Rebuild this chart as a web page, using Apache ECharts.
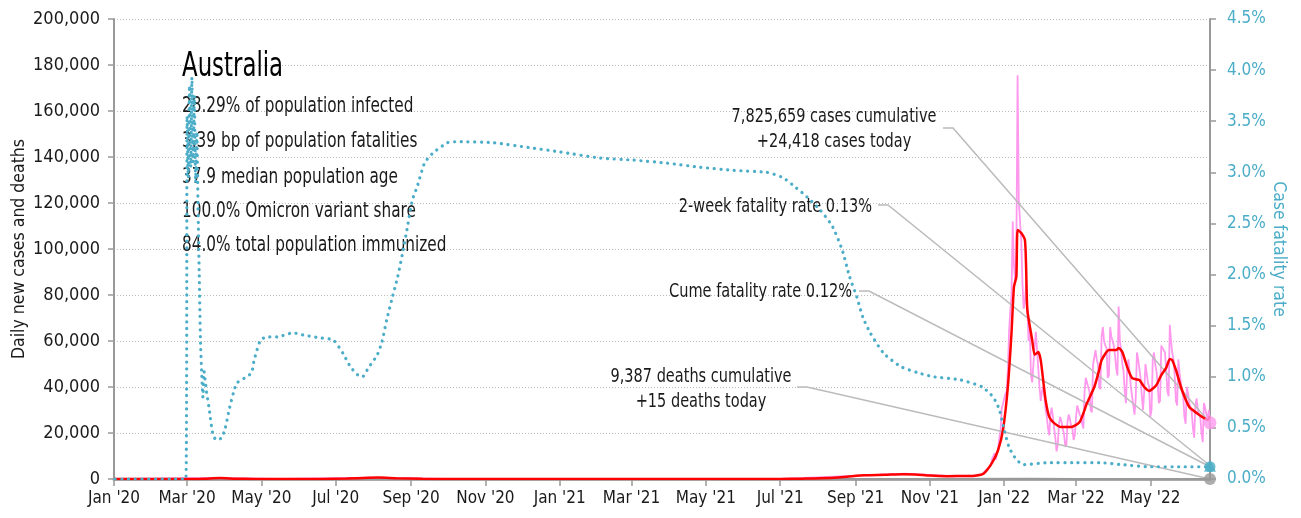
<!DOCTYPE html>
<html>
<head>
<meta charset="utf-8">
<script src="https://cdn.jsdelivr.net/npm/echarts@6/dist/echarts.min.js"></script>
<style>
  html, body { margin: 0; padding: 0; background: #ffffff; }
  #chart { width: 1301px; height: 518px; }
</style>
</head>
<body>
<div id="chart"></div>
<script>
// ---------- data ----------
const firstDay = '2020-01-01';
const lastDay = '2022-06-19';
const monthAbbr = ['Jan','Feb','Mar','Apr','May','Jun','Jul','Aug','Sep','Oct','Nov','Dec'];

const countryName = 'Australia';
const countryStats = [
  '28.29% of population infected',
  '3.39 bp of population fatalities',
  '37.9 median population age',
  '100.0% Omicron variant share',
  '84.0% total population immunized'
];

const casesCumulative = 7825659;
const casesToday = 24418;
const deathsCumulative = 9387;
const deathsToday = 15;
const twoWeekFatalityRate = 0.13;
const cumeFatalityRate = 0.12;

// 7-day average of new cases
const avgCases = [
  ['2020-01-01', 0], ['2020-03-01', 5], ['2020-03-15', 150], ['2020-03-28', 420],
  ['2020-04-10', 150], ['2020-04-25', 30], ['2020-05-20', 15], ['2020-06-20', 25],
  ['2020-07-10', 200], ['2020-07-28', 560], ['2020-08-05', 620], ['2020-08-20', 300],
  ['2020-09-10', 60], ['2020-10-01', 15], ['2020-12-01', 10], ['2021-01-01', 20],
  ['2021-03-01', 10], ['2021-06-01', 15], ['2021-07-01', 20], ['2021-07-20', 150],
  ['2021-08-10', 400], ['2021-08-25', 1000], ['2021-09-08', 1600], ['2021-09-25', 1800],
  ['2021-10-10', 2100], ['2021-10-20', 2000], ['2021-11-01', 1500], ['2021-11-15', 1250],
  ['2021-12-01', 1300], ['2021-12-08', 1450], ['2021-12-15', 2300], ['2021-12-22', 7000],
  ['2021-12-27', 12600], ['2021-12-31', 21300], ['2022-01-04', 40000], ['2022-01-07', 63500],
  ['2022-01-09', 83500], ['2022-01-11', 88000], ['2022-01-12', 108300], ['2022-01-15', 107000],
  ['2022-01-18', 104000], ['2022-01-19', 92000], ['2022-01-20', 73500], ['2022-01-24', 60400],
  ['2022-01-26', 54000], ['2022-01-29', 55200], ['2022-01-31', 51700], ['2022-02-02', 43000],
  ['2022-02-04', 34300], ['2022-02-07', 27000], ['2022-02-11', 24300], ['2022-02-17', 22600],
  ['2022-02-25', 22600], ['2022-03-04', 24800], ['2022-03-10', 33000], ['2022-03-16', 40000],
  ['2022-03-20', 47400], ['2022-03-22', 51700], ['2022-03-28', 56100], ['2022-04-03', 56100],
  ['2022-04-05', 57000], ['2022-04-08', 55200], ['2022-04-12', 48700], ['2022-04-16', 43900],
  ['2022-04-22', 43000], ['2022-04-26', 40000], ['2022-04-30', 38300], ['2022-05-06', 40900],
  ['2022-05-10', 45200], ['2022-05-14', 48300], ['2022-05-17', 52200], ['2022-05-19', 51700],
  ['2022-05-22', 47400], ['2022-05-27', 38700], ['2022-06-02', 31300], ['2022-06-08', 28700],
  ['2022-06-14', 26500], ['2022-06-17', 25700], ['2022-06-19', 27000]
];

// reported daily new cases before the Omicron wave (sparse)
const earlyDailyCases = [
  ['2020-01-01', 0], ['2020-03-27', 480], ['2020-05-15', 15], ['2020-07-30', 620],
  ['2020-10-01', 15], ['2021-07-01', 20], ['2021-10-12', 2300], ['2021-11-20', 1200]
];
// reported daily new cases, one value per day from 2021-12-01
const dailyFrom = '2021-12-01';
const dailyDec21 = [1400,1600,1500,1300,1200,1100,1300,1500,1700,1800,1900,1800,1700,2100,2800,3400,3900,4200,4800,4500,5800,8500,9800,11200,8400,10600,13000,18000,21000,31000,32500];
const dailyJan22 = [35000,37000,38000,47000,64000,73000,80000,112000,93000,86000,100000,175500,121000,112000,104000,85000,74000,77000,85000,75000,60000,66000,45000,42000,50000,58000,64000,56000,48000,40000,34000];
const dailyFeb22 = [38000,40000,36000,30000,27000,22000,19000,28000,31000,27000,22000,18000,12000,15000,24000,27000,25000,22000,20000,15000,14000,25000,28000,26000,23000,22000,17000,19000];
const dailyMar22 = [27000,32000,30000,28000,27000,24000,22000,38000,44000,42000,40000,38000,30000,29000,50000,53000,56000,52000,50000,40000,39000,62000,66000,60000,58000,57000,44000,45000,66000,62000,60000];
const dailyApr22 = [58000,54000,48000,45000,75000,60000,56000,50000,47000,38000,33000,48000,52000,46000,40000,36000,32000,28000,35000,55000,52000,48000,44000,36000,30000,38000,50000,46000,42000,40000];
const dailyMay22 = [27000,30000,52000,55000,50000,47000,42000,33000,34000,58000,57000,56000,55000,48000,38000,36000,67000,60000,55000,52000,45000,34000,32000,52000,46000,42000,38000,36000,27000,24000,40000];
const dailyJun22 = [37000,33000,31000,29000,22000,18000,32000,35000,30000,28000,27000,20000,16000,33000,31000,28000,26000,30000,24418];

// daily deaths (sparse, all near zero on this scale)
const dailyDeaths = [
  ['2020-01-01', 0], ['2020-04-05', 5], ['2020-08-10', 20], ['2020-11-01', 0],
  ['2021-10-10', 12], ['2022-01-20', 80], ['2022-03-01', 25], ['2022-04-15', 20],
  ['2022-05-25', 45], ['2022-06-19', 15]
];

// case fatality rate, percent
const fatalityRate = [
  ['2020-01-02', 0], ['2020-02-29', 0], ['2020-03-01', 3.55], ['2020-03-02', 2.95],
  ['2020-03-03', 3.85], ['2020-03-04', 3.05], ['2020-03-05', 3.93], ['2020-03-06', 3.1],
  ['2020-03-07', 3.75], ['2020-03-08', 2.9], ['2020-03-09', 3.4], ['2020-03-10', 2.66],
  ['2020-03-11', 2.0], ['2020-03-12', 1.36], ['2020-03-13', 1.04], ['2020-03-14', 0.8],
  ['2020-03-15', 1.05], ['2020-03-16', 0.95], ['2020-03-17', 0.85], ['2020-03-19', 0.7],
  ['2020-03-22', 0.45], ['2020-03-25', 0.38], ['2020-03-29', 0.40], ['2020-04-01', 0.48],
  ['2020-04-05', 0.70], ['2020-04-08', 0.84], ['2020-04-11', 0.94], ['2020-04-19', 1.00],
  ['2020-04-23', 1.04], ['2020-04-25', 1.16], ['2020-04-30', 1.35], ['2020-05-05', 1.39],
  ['2020-05-14', 1.39], ['2020-05-27', 1.43], ['2020-06-04', 1.41], ['2020-06-18', 1.38],
  ['2020-06-29', 1.36], ['2020-07-07', 1.23], ['2020-07-13', 1.10], ['2020-07-19', 1.02],
  ['2020-07-23', 1.00], ['2020-07-28', 1.09], ['2020-08-04', 1.21], ['2020-08-08', 1.34],
  ['2020-08-12', 1.56], ['2020-08-16', 1.75], ['2020-08-21', 1.98], ['2020-08-25', 2.21],
  ['2020-08-29', 2.47], ['2020-09-02', 2.73], ['2020-09-06', 2.86], ['2020-09-12', 3.09],
  ['2020-09-19', 3.19], ['2020-10-01', 3.29], ['2020-10-09', 3.30], ['2020-11-07', 3.29],
  ['2020-12-08', 3.24], ['2021-01-01', 3.20], ['2021-02-03', 3.14], ['2021-03-02', 3.12],
  ['2021-03-30', 3.09], ['2021-04-26', 3.05], ['2021-05-23', 3.02], ['2021-06-20', 3.00],
  ['2021-07-03', 2.95], ['2021-07-11', 2.88], ['2021-07-23', 2.76], ['2021-08-03', 2.63],
  ['2021-08-13', 2.47], ['2021-08-21', 2.24], ['2021-08-27', 1.98], ['2021-09-02', 1.78],
  ['2021-09-07', 1.58], ['2021-09-13', 1.43], ['2021-09-24', 1.23], ['2021-10-08', 1.10],
  ['2021-10-22', 1.04], ['2021-11-04', 1.00], ['2021-11-26', 0.97], ['2021-12-14', 0.90],
  ['2021-12-23', 0.80], ['2021-12-28', 0.68], ['2022-01-01', 0.48], ['2022-01-05', 0.31],
  ['2022-01-11', 0.19], ['2022-01-17', 0.14], ['2022-02-07', 0.16], ['2022-03-01', 0.16],
  ['2022-03-20', 0.16], ['2022-04-08', 0.14], ['2022-04-30', 0.12], ['2022-05-27', 0.12],
  ['2022-06-19', 0.12]
];

// ---------- helpers ----------
const FONT = "'DejaVu Sans Condensed','DejaVu Sans',sans-serif";
const BLUE = '#4badc7';
const PINK = '#ff99ee';
const RED = '#ff0000';
const GREY = '#aaaaaa';
const INK = '#1a1a1a';

function dayList(a, b) {
  const out = [];
  let t = Date.parse(a + 'T00:00:00Z');
  const end = Date.parse(b + 'T00:00:00Z');
  while (t <= end) { out.push(new Date(t).toISOString().slice(0, 10)); t += 86400000; }
  return out;
}
const days = dayList(firstDay, lastDay);

const dailyValues = [].concat(dailyDec21, dailyJan22, dailyFeb22, dailyMar22, dailyApr22, dailyMay22, dailyJun22);
const dailyStartIdx = days.indexOf(dailyFrom);
const dailyCases = earlyDailyCases.concat(dailyValues.map((v, i) => [days[dailyStartIdx + i], v]));

const isTickDay = (val) => val.slice(8) === '01' && (parseInt(val.slice(5, 7), 10) % 2 === 1);
const monthLabel = (val) => monthAbbr[parseInt(val.slice(5, 7), 10) - 1] + " '" + val.slice(2, 4);
const fmt = (n) => n.toLocaleString('en-US');

// ---------- chart ----------
const chart = echarts.init(document.getElementById('chart'), null, { renderer: 'canvas' });

chart.setOption({
  animation: false,
  backgroundColor: '#ffffff',
  textStyle: { fontFamily: FONT },
  grid: { left: 114, right: 91, top: 19, bottom: 39, containLabel: false, outerBoundsMode: 'none' },
  xAxis: {
    type: 'category',
    data: days,
    boundaryGap: false,
    axisLine: { show: true, lineStyle: { color: GREY, width: 3 } },
    axisTick: { show: true, interval: (i, v) => isTickDay(v), length: 7, lineStyle: { color: '#999999', width: 1.5 } },
    axisLabel: { interval: (i, v) => isTickDay(v), formatter: monthLabel, color: INK, fontSize: 17, fontFamily: FONT, margin: 11 },
    splitLine: { show: false }
  },
  yAxis: [
    {
      type: 'value', min: 0, max: 200000, interval: 20000,
      name: 'Daily new cases and deaths', nameLocation: 'middle', nameRotate: 90, nameGap: 86,
      nameMoveOverlap: false,
      nameTextStyle: { color: INK, fontSize: 17.5, fontFamily: FONT },
      axisLine: { show: true, lineStyle: { color: '#999999', width: 2 } },
      axisTick: { show: true, length: 6, lineStyle: { color: '#999999', width: 1.5 } },
      axisLabel: { formatter: (v) => fmt(v), color: INK, fontSize: 18, fontFamily: FONT, margin: 14 },
      splitLine: { show: true, lineStyle: { color: '#bbbbbb', width: 1, type: [1, 2] } }
    },
    {
      type: 'value', min: 0, max: 4.5, interval: 0.5, position: 'right',
      name: 'Case fatality rate', nameLocation: 'middle', nameRotate: -90, nameGap: 60,
      nameMoveOverlap: false,
      nameTextStyle: { color: BLUE, fontSize: 17.5, fontFamily: FONT },
      axisLine: { show: true, lineStyle: { color: '#999999', width: 2 } },
      axisTick: { show: true, length: 6, lineStyle: { color: '#999999', width: 1.5 } },
      axisLabel: { formatter: (v) => v.toFixed(1) + '%', color: BLUE, fontSize: 17, fontFamily: FONT, margin: 17 },
      splitLine: { show: false }
    }
  ],
  series: [
    { name: 'Daily new cases', type: 'line', yAxisIndex: 0, data: dailyCases, showSymbol: false, z: 1,
      lineStyle: { color: PINK, width: 1.8 }, silent: true },
    { name: 'Daily deaths', type: 'line', yAxisIndex: 0, data: dailyDeaths, showSymbol: false, z: 3,
      lineStyle: { color: '#999999', width: 2 }, silent: true },
    { name: '7-day average cases', type: 'line', yAxisIndex: 0, data: avgCases, showSymbol: false, z: 4, smooth: 0.2,
      lineStyle: { color: RED, width: 2.5 }, silent: true },
    { name: 'Case fatality rate', type: 'line', yAxisIndex: 1, data: fatalityRate, showSymbol: false, z: 4, smooth: 0.2,
      lineStyle: { color: BLUE, width: 3.2, type: [0.1, 6.6], cap: 'round' }, silent: true },
    // end-of-series markers
    { name: 'cases today', type: 'scatter', yAxisIndex: 0, data: [[lastDay, casesToday]], symbol: 'circle', symbolSize: 13,
      itemStyle: { color: PINK }, z: 6, silent: true },
    { name: 'deaths today', type: 'scatter', yAxisIndex: 0, data: [[lastDay, deathsToday]], symbol: 'circle', symbolSize: 12,
      itemStyle: { color: '#999999' }, z: 6, silent: true },
    { name: 'cume fatality', type: 'scatter', yAxisIndex: 1, data: [[lastDay, cumeFatalityRate]], symbol: 'circle', symbolSize: 11,
      itemStyle: { color: BLUE }, z: 6, silent: true },
    { name: '2-week fatality', type: 'scatter', yAxisIndex: 1, data: [[lastDay, twoWeekFatalityRate]], symbol: 'triangle', symbolSize: 12,
      itemStyle: { color: BLUE }, z: 7, silent: true }
  ]
});

// ---------- annotations ----------
const lastIdx = days.length - 1;
const endCases = chart.convertToPixel({ seriesIndex: 4 }, [lastIdx, casesToday]);
const endDeaths = chart.convertToPixel({ seriesIndex: 5 }, [lastIdx, deathsToday]);
const endCume = chart.convertToPixel({ seriesIndex: 6 }, [lastIdx, cumeFatalityRate]);
const endTwoWeek = chart.convertToPixel({ seriesIndex: 7 }, [lastIdx, twoWeekFatalityRate]);

// tall, narrow lettering: regular size, squeezed horizontally
const txt = (text, x, y, size, squeeze, align, color) => ({
  type: 'text', x: x, y: y, z: 1, silent: true, scaleX: squeeze, scaleY: 1,
  style: { text: text, font: size + 'px ' + FONT, fill: color || INK, align: align || 'left', verticalAlign: 'middle' }
});
const leader = (pts) => ({
  type: 'polyline', z: 2, silent: true,
  shape: { points: pts },
  style: { stroke: '#bbbbbb', lineWidth: 1.5, fill: null }
});

const statRows = [107, 142, 178, 212, 246];
const graphics = [
  txt(countryName, 182, 67, 33, 0.77, 'left', '#000000'),
  ...countryStats.map((s, i) => txt(s, 182, statRows[i], 21, 0.81, 'left', INK)),

  txt(fmt(casesCumulative) + ' cases cumulative', 834, 117, 19, 0.85, 'center'),
  txt('+' + fmt(casesToday) + ' cases today', 834, 142, 19, 0.85, 'center'),
  leader([[943, 128], [953, 128], endCases]),

  txt('2-week fatality rate ' + twoWeekFatalityRate.toFixed(2) + '%', 872, 207, 19, 0.85, 'right'),
  leader([[878, 205], [888, 205], endTwoWeek]),

  txt('Cume fatality rate ' + cumeFatalityRate.toFixed(2) + '%', 852, 292, 19, 0.85, 'right'),
  leader([[859, 291], [869, 291], endCume]),

  txt(fmt(deathsCumulative) + ' deaths cumulative', 701, 377, 19, 0.85, 'center'),
  txt('+' + fmt(deathsToday) + ' deaths today', 701, 402, 19, 0.85, 'center'),
  leader([[797, 387], [807, 387], endDeaths])
];

chart.setOption({ graphic: graphics });
</script>
</body>
</html>
